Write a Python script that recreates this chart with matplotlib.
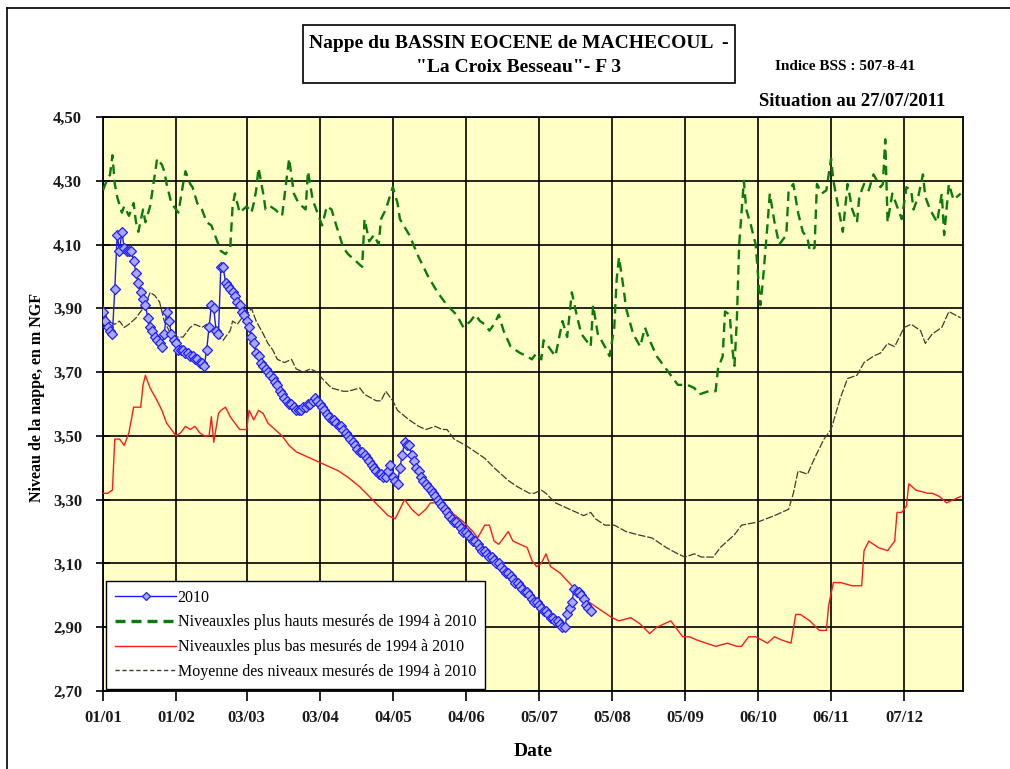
import matplotlib
matplotlib.use("Agg")
import matplotlib.pyplot as plt
from matplotlib.patches import Rectangle
from matplotlib.lines import Line2D

# ---------------- data ----------------
tick_days = [0, 31, 61, 92, 123, 154, 185, 216, 247, 278, 309, 340]
tick_labels = ["01/01", "01/02", "03/03", "03/04", "04/05", "04/06",
               "05/07", "05/08", "05/09", "06/10", "06/11", "07/12"]
y_ticks = [2.70, 2.90, 3.10, 3.30, 3.50, 3.70, 3.90, 4.10, 4.30, 4.50]

# 2010 series: one value per day from 01/01 (day 0) to 27/07 (day 207)
y2010 = [
    3.89, 3.86, 3.84, 3.83, 3.82, 3.96, 4.13, 4.08, 4.14, 4.09,
    4.08, 4.08, 4.08, 4.05, 4.01, 3.98, 3.95, 3.93, 3.91, 3.87,
    3.84, 3.83, 3.81, 3.80, 3.79, 3.78, 3.82, 3.89, 3.86, 3.82,
    3.80, 3.79, 3.77, 3.77, 3.77, 3.76, 3.76, 3.75, 3.75, 3.74,
    3.74, 3.73, 3.73, 3.72, 3.77, 3.84, 3.91, 3.90, 3.83, 3.82,
    4.03, 4.03, 3.98, 3.97, 3.96, 3.95, 3.94, 3.92, 3.91, 3.89,
    3.88, 3.86, 3.84, 3.81, 3.79, 3.76, 3.75, 3.73, 3.72, 3.71,
    3.70, 3.69, 3.68, 3.67, 3.66, 3.64, 3.63, 3.62, 3.61, 3.60,
    3.60, 3.59, 3.58, 3.58, 3.58, 3.59, 3.59, 3.60, 3.60, 3.61,
    3.62, 3.61, 3.60, 3.59, 3.58, 3.57, 3.56, 3.55, 3.55, 3.54,
    3.53, 3.53, 3.52, 3.51, 3.50, 3.49, 3.48, 3.47, 3.46, 3.45,
    3.45, 3.44, 3.43, 3.42, 3.41, 3.40, 3.39, 3.38, 3.38, 3.37,
    3.37, 3.39, 3.41, 3.37, 3.36, 3.35, 3.40, 3.44, 3.48, 3.47,
    3.47, 3.44, 3.42, 3.40, 3.39, 3.37, 3.36, 3.35, 3.34, 3.33,
    3.32, 3.31, 3.30, 3.29, 3.28, 3.27, 3.26, 3.25, 3.24, 3.23,
    3.23, 3.22, 3.21, 3.20, 3.20, 3.19, 3.18, 3.17, 3.17, 3.16,
    3.15, 3.14, 3.14, 3.13, 3.12, 3.12, 3.11, 3.10, 3.10, 3.09,
    3.08, 3.07, 3.07, 3.06, 3.05, 3.04, 3.04, 3.03, 3.02, 3.01,
    3.01, 3.00, 2.99, 2.98, 2.98, 2.97, 2.96, 2.95, 2.95, 2.94,
    2.93, 2.93, 2.92, 2.92, 2.91, 2.90, 2.90, 2.94, 2.96, 2.98,
    3.02, 3.01, 3.01, 3.00, 2.99, 2.97, 2.96, 2.95,
]
days2010 = list(range(len(y2010)))

max_days = [0, 1, 3, 4, 5, 6, 8, 9, 11, 13, 14, 15, 17, 18, 20, 22, 23, 25, 26, 27,
            29, 31, 32, 34, 35, 37, 38, 40, 42, 44, 46, 49, 50, 52, 54, 55, 56, 58, 61, 63,
            64, 65, 66, 68, 69, 71, 73, 76, 77, 79, 81, 83, 86, 87, 89, 91, 93, 95, 97, 99,
            102, 104, 107, 110, 111, 113, 115, 117, 118, 120, 123, 125, 126, 130, 134, 138, 142, 146, 150, 153,
            156, 158, 160, 162, 164, 166, 168, 170, 173, 177, 180, 182, 184, 186, 187, 189, 192, 195, 197, 199,
            201, 203, 206, 207, 208, 210, 213, 215, 217, 218, 219, 221, 222, 225, 228, 230, 232, 235, 238, 241,
            244, 248, 251, 253, 257, 260, 261, 263, 264, 266, 267, 268, 269, 270, 272, 273, 275, 277, 279, 280,
            282, 283, 285, 287, 290, 291, 293, 295, 297, 299, 300, 302, 303, 305, 307, 309, 310, 312, 314, 316,
            318, 320, 321, 323, 325, 327, 330, 331, 332, 333, 335, 337, 339, 341, 343, 344, 346, 348, 349, 351,
            354, 356, 357, 359, 361, 364]
max_vals = [4.27, 4.29, 4.32, 4.38, 4.29, 4.25, 4.20, 4.22, 4.19, 4.23, 4.17, 4.14, 4.21, 4.17, 4.22, 4.32, 4.37, 4.35, 4.33, 4.29,
            4.23, 4.21, 4.20, 4.29, 4.33, 4.29, 4.28, 4.23, 4.21, 4.17, 4.16, 4.10, 4.08, 4.07, 4.09, 4.22, 4.26, 4.20, 4.22, 4.20,
            4.23, 4.27, 4.34, 4.26, 4.21, 4.22, 4.21, 4.19, 4.25, 4.37, 4.26, 4.23, 4.21, 4.33, 4.24, 4.20, 4.16, 4.22, 4.21, 4.16,
            4.09, 4.07, 4.05, 4.03, 4.18, 4.11, 4.13, 4.10, 4.18, 4.21, 4.28, 4.23, 4.18, 4.13, 4.06, 4.00, 3.95, 3.91, 3.88, 3.84,
            3.86, 3.88, 3.86, 3.85, 3.83, 3.85, 3.88, 3.83, 3.78, 3.76, 3.75, 3.74, 3.76, 3.74, 3.80, 3.78, 3.75, 3.86, 3.81, 3.95,
            3.88, 3.82, 3.79, 3.78, 3.91, 3.82, 3.78, 3.75, 3.84, 3.99, 4.06, 3.96, 3.90, 3.82, 3.78, 3.84, 3.80, 3.75, 3.72, 3.69,
            3.66, 3.66, 3.65, 3.63, 3.64, 3.64, 3.71, 3.75, 3.89, 3.88, 3.78, 3.72, 3.86, 4.10, 4.30, 4.21, 4.16, 4.10, 3.91, 3.98,
            4.16, 4.26, 4.17, 4.10, 4.13, 4.27, 4.29, 4.20, 4.14, 4.12, 4.08, 4.09, 4.29, 4.26, 4.27, 4.37, 4.30, 4.22, 4.14, 4.29,
            4.21, 4.17, 4.25, 4.29, 4.27, 4.32, 4.28, 4.29, 4.43, 4.17, 4.26, 4.22, 4.18, 4.28, 4.27, 4.21, 4.25, 4.32, 4.25, 4.21,
            4.17, 4.26, 4.13, 4.29, 4.24, 4.26]

min_days = [0, 2, 4, 5, 7, 9, 11, 13, 15, 16, 17, 18, 20, 23, 25, 27, 29, 31, 33, 35,
            37, 39, 41, 43, 45, 46, 47, 49, 50, 52, 54, 56, 58, 61, 62, 64, 66, 68, 70, 73,
            76, 79, 82, 85, 88, 91, 94, 97, 100, 104, 109, 113, 117, 121, 124, 126, 128, 129, 131, 134,
            137, 139, 142, 145, 148, 153, 157, 159, 162, 164, 166, 168, 170, 172, 174, 177, 180, 182, 184, 186,
            188, 190, 194, 199, 204, 208, 212, 216, 219, 224, 228, 232, 235, 238, 241, 244, 246, 249, 252, 256,
            260, 265, 269, 271, 274, 277, 282, 285, 288, 292, 294, 296, 300, 304, 307, 308, 310, 313, 318, 322,
            323, 325, 329, 333, 336, 337, 339, 341, 342, 345, 350, 352, 355, 358, 361, 364]
min_vals = [3.32, 3.32, 3.33, 3.49, 3.49, 3.47, 3.51, 3.59, 3.59, 3.59, 3.66, 3.69, 3.65, 3.61, 3.58, 3.54, 3.52, 3.50, 3.51, 3.53,
            3.52, 3.53, 3.51, 3.50, 3.50, 3.56, 3.48, 3.57, 3.58, 3.59, 3.56, 3.54, 3.52, 3.52, 3.58, 3.55, 3.58, 3.57, 3.54, 3.52,
            3.50, 3.47, 3.45, 3.44, 3.43, 3.42, 3.41, 3.40, 3.39, 3.37, 3.34, 3.31, 3.28, 3.25, 3.24, 3.27, 3.30, 3.29, 3.27, 3.25,
            3.27, 3.29, 3.29, 3.28, 3.26, 3.23, 3.20, 3.18, 3.22, 3.22, 3.17, 3.16, 3.18, 3.20, 3.17, 3.16, 3.15, 3.11, 3.09, 3.10,
            3.13, 3.09, 3.07, 3.03, 2.99, 2.97, 2.95, 2.93, 2.92, 2.93, 2.91, 2.88, 2.90, 2.91, 2.92, 2.89, 2.87, 2.87, 2.86, 2.85,
            2.84, 2.85, 2.84, 2.84, 2.87, 2.87, 2.85, 2.87, 2.86, 2.85, 2.94, 2.94, 2.92, 2.89, 2.89, 2.97, 3.04, 3.04, 3.03, 3.03,
            3.14, 3.17, 3.15, 3.14, 3.17, 3.26, 3.26, 3.28, 3.35, 3.33, 3.32, 3.32, 3.31, 3.29, 3.30, 3.31]

mean_days = [0, 2, 5, 7, 9, 11, 14, 16, 18, 20, 22, 24, 26, 28, 31, 34, 37, 39, 42, 44,
             46, 49, 51, 54, 55, 57, 59, 61, 63, 65, 68, 70, 72, 74, 77, 80, 82, 85, 88, 91,
             93, 97, 102, 104, 109, 111, 116, 118, 120, 123, 125, 130, 134, 137, 141, 144, 146, 149, 154, 158,
             162, 166, 172, 176, 181, 183, 186, 188, 192, 198, 204, 207, 209, 213, 217, 222, 227, 233, 239, 244,
             247, 251, 254, 259, 262, 265, 268, 271, 278, 285, 291, 293, 295, 299, 302, 306, 309, 313, 316, 320,
             323, 327, 330, 333, 336, 340, 343, 347, 349, 352, 356, 359, 364]
mean_vals = [3.91, 3.86, 3.85, 3.86, 3.84, 3.85, 3.87, 3.89, 3.91, 3.95, 3.94, 3.92, 3.86, 3.83, 3.81, 3.81, 3.84, 3.85, 3.84, 3.85,
             3.83, 3.81, 3.80, 3.83, 3.86, 3.85, 3.87, 3.88, 3.90, 3.86, 3.82, 3.79, 3.77, 3.74, 3.73, 3.74, 3.71, 3.70, 3.71, 3.70,
             3.68, 3.65, 3.64, 3.64, 3.65, 3.63, 3.61, 3.61, 3.64, 3.61, 3.58, 3.55, 3.53, 3.52, 3.53, 3.52, 3.52, 3.49, 3.47, 3.45,
             3.43, 3.40, 3.36, 3.34, 3.32, 3.32, 3.33, 3.32, 3.29, 3.27, 3.25, 3.26, 3.24, 3.22, 3.22, 3.20, 3.19, 3.18, 3.15, 3.13,
             3.12, 3.13, 3.12, 3.12, 3.15, 3.17, 3.19, 3.22, 3.23, 3.25, 3.27, 3.32, 3.39, 3.38, 3.43, 3.49, 3.52, 3.62, 3.68, 3.69,
             3.73, 3.75, 3.76, 3.79, 3.78, 3.84, 3.85, 3.83, 3.79, 3.82, 3.84, 3.89, 3.87]

labels = ["2010",
          "Niveauxles plus hauts mesurés de 1994 à 2010",
          "Niveauxles plus bas mesurés de 1994 à 2010",
          "Moyenne des niveaux mesurés de 1994 à 2010"]

# ---------------- figure ----------------
SERIF = ["Liberation Serif", "DejaVu Serif"]
W, H = 1010, 769
fig = plt.figure(figsize=(W / 100, H / 100), dpi=100, facecolor="white")

def fx(px):
    return px / W

def fy(py):
    return 1 - py / H

ax = fig.add_axes([fx(103), fy(691), fx(963) - fx(103), fy(117) - fy(691)])
ax.set_facecolor("#FFFFC6")

l_mean, = ax.plot(mean_days, mean_vals, color="#3C3C2E", lw=0.9,
                  dashes=(6, 1.5), zorder=3)
l_min, = ax.plot(min_days, min_vals, color="#FF1A1A", lw=1.0, zorder=3)
l_max, = ax.plot(max_days, max_vals, color="#0A7A0A", lw=1.7,
                 dashes=(4, 2.5), zorder=3)
l_2010, = ax.plot(days2010, y2010, color="#1A1AFF", lw=1.0, marker="D",
                  markersize=4.8, markerfacecolor="#A8A8FF",
                  markeredgecolor="#2020FF", markeredgewidth=0.9, zorder=4)

ax.set_xlim(0, 365)
ax.set_ylim(2.70, 4.50)
ax.set_xticks(tick_days)
ax.set_xticklabels(tick_labels)
ax.set_yticks(y_ticks)
ax.set_yticklabels([f"{v:.2f}".replace(".", ",") for v in y_ticks])
ax.grid(True, color="black", lw=1.2, zorder=1)
ax.set_axisbelow(True)
for s in ax.spines.values():
    s.set_color("black")
    s.set_linewidth(1.3)
ax.tick_params(axis="x", direction="out", length=7, width=1.2, pad=7)
ax.tick_params(axis="y", direction="inout", length=10, width=1.2, pad=10)
for t in ax.get_xticklabels() + ax.get_yticklabels():
    t.set_fontfamily(SERIF)
    t.set_fontweight("bold")
    t.set_fontsize(12)
    t.set_color("#1a1a1a")

ax.set_xlabel("Date", fontfamily=SERIF, fontweight="bold", fontsize=14,
              labelpad=12)
fig.text(fx(37), fy(398), "Niveau de la nappe, en m NGF", rotation=90,
         ha="center", va="center", fontfamily=SERIF, fontweight="bold",
         fontsize=11.5)

# legend
h_mean = Line2D([], [], color="#3C3C2E", lw=1.0, dashes=(3, 2))
h_max = Line2D([], [], color="#0A7A0A", lw=2.4, dashes=(3, 1.8))
leg = ax.legend([l_2010, h_max, l_min, h_mean], labels, loc="lower left",
                bbox_to_anchor=(0.004, 0.004), prop={"family": SERIF, "size": 11.5},
                frameon=True, fancybox=False, framealpha=1, edgecolor="black",
                handlelength=3.8, handletextpad=0.1, labelspacing=0.55,
                borderpad=0.55, borderaxespad=0, markerscale=0.8)
leg.get_frame().set_linewidth(1.0)
leg.set_zorder(10)

# title box
fig.patches.append(Rectangle((fx(303), fy(83)), fx(735) - fx(303), fy(25) - fy(83),
                             transform=fig.transFigure, fill=False,
                             edgecolor="black", lw=1.2))
fig.text(fx(519), fy(43), "Nappe du BASSIN EOCENE de MACHECOUL  -",
         ha="center", va="center", fontfamily=SERIF, fontweight="bold",
         fontsize=14)
fig.text(fx(519), fy(68), "\"La Croix Besseau\"- F 3",
         ha="center", va="center", fontfamily=SERIF, fontweight="bold",
         fontsize=14)
fig.text(fx(845), fy(66), "Indice BSS : 507-8-41", ha="center", va="center",
         fontfamily=SERIF, fontweight="bold", fontsize=11)
fig.text(fx(945), fy(102), "Situation au 27/07/2011", ha="right", va="center",
         fontfamily=SERIF, fontweight="bold", fontsize=13.5)

# outer frame (top and left edges)
fig.lines.append(Line2D([fx(7), fx(7)], [fy(8), 0], transform=fig.transFigure,
                        color="black", lw=1.2))
fig.lines.append(Line2D([fx(7), 1], [fy(8), fy(8)], transform=fig.transFigure,
                        color="black", lw=1.2))

fig.savefig("out.png", dpi=100, facecolor="white")
